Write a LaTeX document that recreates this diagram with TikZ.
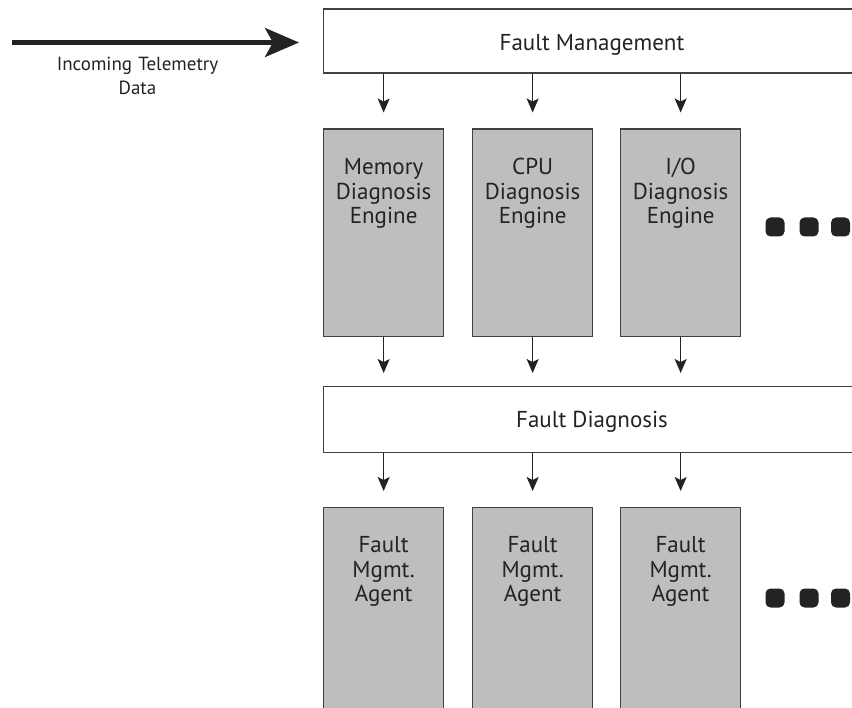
\documentclass[tikz,border=0pt]{standalone}
\usepackage{fontspec}
\setmainfont{PT Sans}
\usetikzlibrary{arrows.meta}
\definecolor{boxgray}{RGB}{190,190,190}
\definecolor{ink}{RGB}{35,35,35}
\definecolor{edge}{RGB}{65,65,65}
\tikzset{
  bar/.style={draw=edge, line width=1.3pt, fill=white, anchor=north west,
    inner sep=0pt, minimum width=539pt},
  unit/.style={draw=edge, line width=1.3pt, fill=boxgray, anchor=north west,
    inner sep=0pt, minimum width=120pt},
  bartext/.style={anchor=base, inner sep=0pt, text=ink,
    font=\fontsize{23}{24}\selectfont},
  unittext/.style={anchor=base, inner sep=0pt, text=ink, text width=120pt,
    align=center, font=\fontsize{23}{24.7}\selectfont},
  flow/.style={draw=ink, line width=1.3pt,
    -{Stealth[length=14pt,width=12pt,inset=3pt]}},
  feed/.style={draw=ink, line width=4.5pt,
    -{Stealth[length=34pt,width=29pt,inset=8pt]}},
  dot/.style={fill=ink, rounded corners=5pt, minimum size=19pt, inner sep=0pt},
}
\begin{document}
\begin{tikzpicture}[x=1pt, y=-1pt]
\useasboundingbox (0,0) rectangle (852,708);
\clip (0,0) rectangle (852,708);

% incoming data feed
\coordinate (src) at (12,42.5);
\node[anchor=base, inner sep=0pt, text=ink, text width=240pt, align=center,
      font=\fontsize{19}{23.6}\selectfont] (feedlbl) at (137.5,70.7)
      {Incoming Telemetry\\Data};

% fault management bar
\node[bar, minimum height=64pt] (fm) at (323,8.5) {};
\node[bartext] (fmtext) at (592,51) {Fault Management};
\draw[feed, shorten >=24pt] (src) -- (src -| fm.west);

% diagnosis engines
\node[unit, minimum height=207.5pt] (mem) at (323,128.5) {};
\node[unit, minimum height=207.5pt] (cpu) at (472,128.5) {};
\node[unit, minimum height=207.5pt] (io)  at (620,128.5) {};
\node[unittext] (memtext) at ([yshift=-46pt]mem.north) {Memory\\Diagnosis\\Engine};
\node[unittext] (cputext) at ([yshift=-46pt]cpu.north) {CPU\\Diagnosis\\Engine};
\node[unittext] (iotext)  at ([yshift=-46pt]io.north)  {I/O\\Diagnosis\\Engine};
\node[dot] (e1) at (775,227) {};
\node[dot] (e2) at (809,227) {};
\node[dot] (e3) at (840.5,227) {};

% fault diagnosis bar
\node[bar, minimum height=66pt] (fd) at (323,386) {};
\node[bartext] (fdtext) at (592,428) {Fault Diagnosis};

% fault management agents
\node[unit, minimum height=215pt] (ag1) at (323,507) {};
\node[unit, minimum height=215pt] (ag2) at (472,507) {};
\node[unit, minimum height=215pt] (ag3) at (620,507) {};
\node[unittext] (ag1text) at ([yshift=-45.5pt]ag1.north) {Fault\\Mgmt.\\Agent};
\node[unittext] (ag2text) at ([yshift=-45.5pt]ag2.north) {Fault\\Mgmt.\\Agent};
\node[unittext] (ag3text) at ([yshift=-45.5pt]ag3.north) {Fault\\Mgmt.\\Agent};
\node[dot] (a1) at (775,598) {};
\node[dot] (a2) at (809,598) {};
\node[dot] (a3) at (840.5,598) {};

% connectors
\foreach \u in {mem,cpu,io}
  \draw[flow, shorten >=16pt] (fm.south -| \u.north) -- (\u.north);
\foreach \u in {mem,cpu,io}
  \draw[flow, shorten >=13pt] (\u.south) -- (\u.south |- fd.north);
\foreach \u in {ag1,ag2,ag3}
  \draw[flow, shorten >=16pt] (fd.south -| \u.north) -- (\u.north);
\end{tikzpicture}
\end{document}
